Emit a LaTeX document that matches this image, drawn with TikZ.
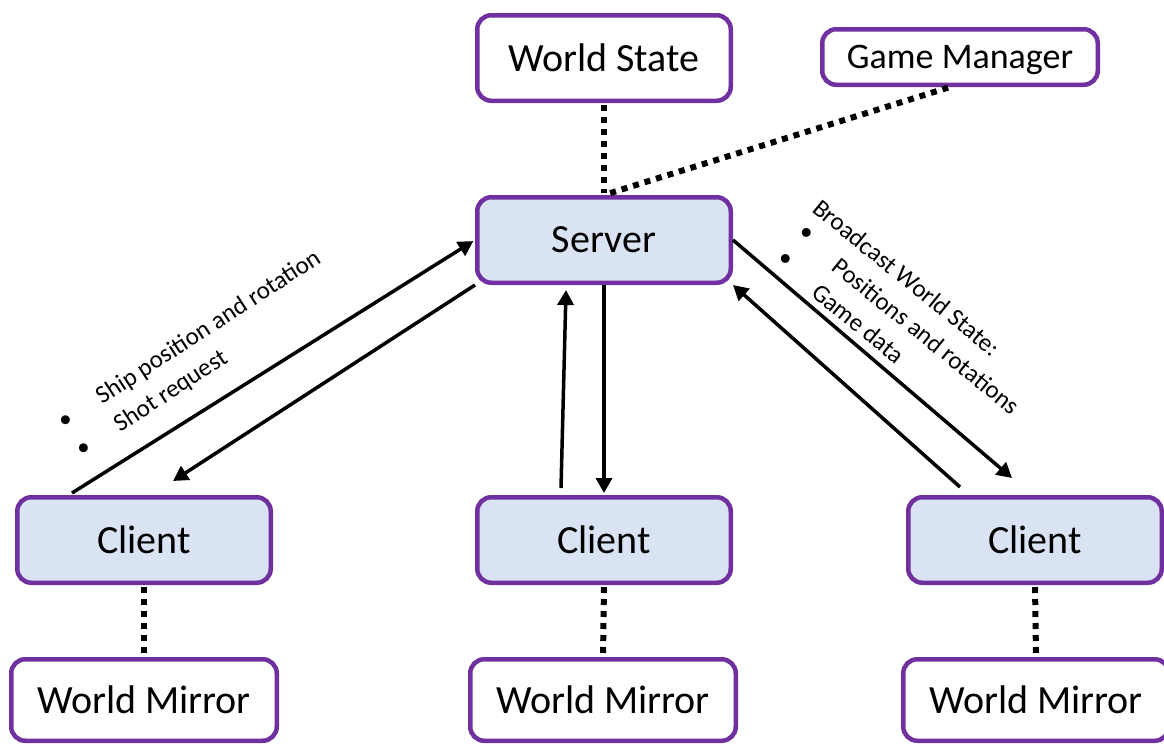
\documentclass[tikz,border=0pt]{standalone}
\usepackage{fontspec}
\setmainfont{Carlito}
\usetikzlibrary{arrows.meta}
\definecolor{boxpurple}{HTML}{7030A0}
\definecolor{boxblue}{HTML}{DAE3F3}

\newcommand{\BoxWidth}{253.5pt}
\newcommand{\BoxHeight}{85.5pt}

\tikzset{
  plainbox/.style={draw=boxpurple, line width=4.5pt, rounded corners=14pt, fill=white,
    minimum width=\BoxWidth, minimum height=\BoxHeight, inner sep=0pt,
    font=\fontsize{40}{48}\selectfont},
  hostbox/.style={plainbox, fill=boxblue},
  link/.style={line width=6pt, dash pattern=on 6pt off 6pt, shorten <=2pt, shorten >=2pt},
  msg/.style={line width=3.5pt, -{Triangle[length=15pt,width=16pt]}},
  msgtext/.style={inner sep=0pt, font=\fontsize{25}{33}\selectfont},
}

\begin{document}
\begin{tikzpicture}[x=1pt,y=-1pt]
\useasboundingbox (0,0) rectangle (1164,744);

\node[plainbox] (worldstate) at (604,58) {World State};
\node[plainbox, minimum width=275.5pt, minimum height=55.5pt, text height=23pt, text depth=0pt,
      font=\fontsize{36}{43}\selectfont] (gamemgr) at (960,57) {Game Manager};
\node[hostbox] (server) at (604,240) {Server};

\node[hostbox] (clientL) at (144,540) {Client};
\node[hostbox] (clientM) at (604,540) {Client};
\node[hostbox] (clientR) at (1035,540) {Client};

\node[plainbox, minimum width=265.5pt, minimum height=81.5pt] (mirrorL) at (144,700) {World Mirror};
\node[plainbox, minimum width=265.5pt, minimum height=81.5pt] (mirrorM) at (603,700) {World Mirror};
\node[plainbox, minimum width=265.5pt, minimum height=81.5pt] (mirrorR) at (1036,700) {World Mirror};

\draw[link] (worldstate.south) -- (server.north);% World State link
\draw[link] ([xshift=-10pt]gamemgr.south) -- (server.north);% Game Manager link
\foreach \side in {L, M, R}{
    \draw[link] (client\side.south) -- (mirror\side.north);
}

\draw[msg, shorten >=2pt] ([xshift=-72pt,yshift=2pt]clientL.north) -- (server.west);
\draw[msg] (server.south west) -- ([xshift=29pt,yshift=14pt]clientL.north);
\draw[msg] ([xshift=-43pt,yshift=7pt]clientM.north) -- ([xshift=-38pt,yshift=-5pt]server.south);
\draw[msg, shorten >=2pt] (server.south) -- (clientM.north);
\draw[msg] (server.east) -- ([xshift=-23pt,yshift=17pt]clientR.north);
\draw[msg] ([xshift=-75pt,yshift=8pt]clientR.north) -- (server.south east);

\node[msgtext, rotate=33, anchor=base west] (shiplabel) at (64,430)
  {\begin{tabular}[t]{@{}l@{}l@{}}
   \makebox[46pt][l]{\textbullet} & Ship position and rotation\\
   \makebox[46pt][l]{\textbullet} & Shot request
   \end{tabular}};
\node[msgtext, rotate=-39, anchor=base west] (statelabel) at (811,211)
  {\begin{tabular}[t]{@{}l@{}l@{}}
   \multicolumn{2}{@{}l@{}}{Broadcast World State:}\\
   \makebox[52pt][l]{\hspace{4pt}\raisebox{6pt}{\textbullet}} & Positions and rotations\\
   \makebox[52pt][l]{\hspace{4pt}\raisebox{6pt}{\textbullet}} & Game data
   \end{tabular}};
\end{tikzpicture}
\end{document}
